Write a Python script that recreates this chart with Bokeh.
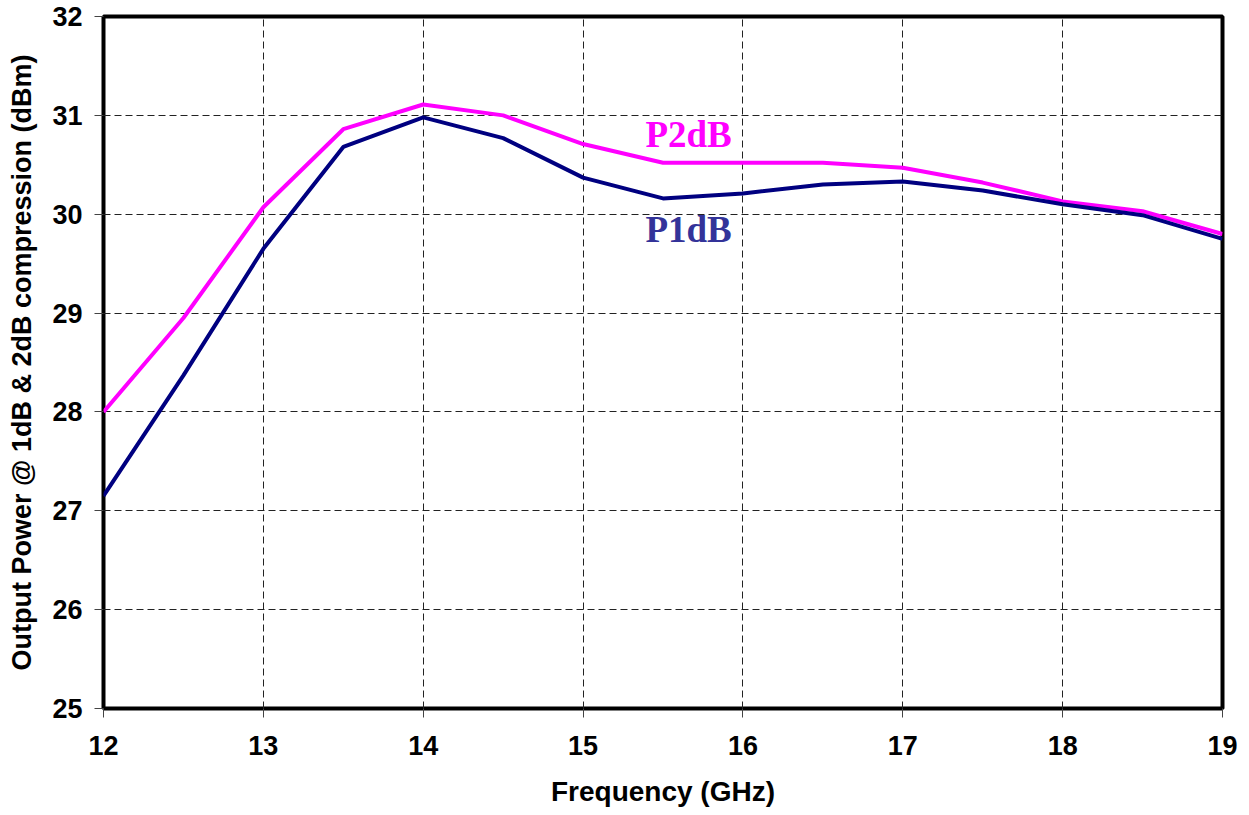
from bokeh.plotting import figure
from bokeh.models import Range1d, FixedTicker, Label
from bokeh.embed import file_html
from bokeh.resources import INLINE

freq = [12, 12.5, 13, 13.5, 14, 14.5, 15, 15.5, 16, 16.5, 17, 17.5, 18, 18.5, 19]
p2db = [28.0, 28.95, 30.07, 30.86, 31.11, 31.0, 30.71, 30.52, 30.52, 30.52, 30.47, 30.32, 30.13, 30.03, 29.8]
p1db = [27.15, 28.37, 29.65, 30.68, 30.98, 30.77, 30.37, 30.16, 30.21, 30.3, 30.33, 30.24, 30.1, 29.99, 29.75]
x_ticks = [12, 13, 14, 15, 16, 17, 18, 19]
y_ticks = [25, 26, 27, 28, 29, 30, 31, 32]

p = figure(width=1249, height=815, output_backend="svg", toolbar_location=None,
           x_range=Range1d(12, 19), y_range=Range1d(25, 32),
           min_border_left=103, min_border_right=27, min_border_top=16, min_border_bottom=107)
p.background_fill_color = "white"
p.border_fill_color = "white"
p.outline_line_color = "black"
p.outline_line_width = 4

for ax in (p.xaxis[0], p.yaxis[0]):
    ax.axis_line_color = None
    ax.major_tick_line_color = "#444444"
    ax.major_tick_line_width = 1
    ax.major_tick_in = 0
    ax.major_tick_out = 9
    ax.minor_tick_line_color = None
    ax.major_label_text_font = "Liberation Sans"
    ax.major_label_text_font_style = "bold"
    ax.major_label_text_font_size = "27px"
    ax.major_label_text_color = "black"
    ax.axis_label_text_font = "Liberation Sans"
    ax.axis_label_text_font_style = "bold"
    ax.axis_label_text_color = "black"

p.xaxis.axis_label_text_font_size = "28px"
p.yaxis.axis_label_text_font_size = "27px"
p.xaxis.ticker = FixedTicker(ticks=x_ticks)
p.yaxis.ticker = FixedTicker(ticks=y_ticks)
p.xaxis.axis_label = "Frequency (GHz)"
p.yaxis.axis_label = "Output Power @ 1dB & 2dB compression (dBm)"
p.xaxis.major_label_standoff = 18
p.xaxis.axis_label_standoff = 18
p.yaxis.major_label_standoff = 12
p.yaxis.axis_label_standoff = 12

p.grid.grid_line_color = "#222222"
p.grid.grid_line_width = 1
p.grid.grid_line_dash = "7 4"

p.line(freq, p2db, line_color="#FF00FF", line_width=4)
p.line(freq, p1db, line_color="#000080", line_width=4)

p.add_layout(Label(x=15.66, y=30.81, text="P2dB", text_color="#FF00FF",
                   text_font="Liberation Serif", text_font_style="bold", text_font_size="37px",
                   text_align="center", text_baseline="middle"))
p.add_layout(Label(x=15.66, y=29.85, text="P1dB", text_color="#333399",
                   text_font="Liberation Serif", text_font_style="bold", text_font_size="37px",
                   text_align="center", text_baseline="middle"))

open("out.html", "w").write(file_html(p, INLINE))
